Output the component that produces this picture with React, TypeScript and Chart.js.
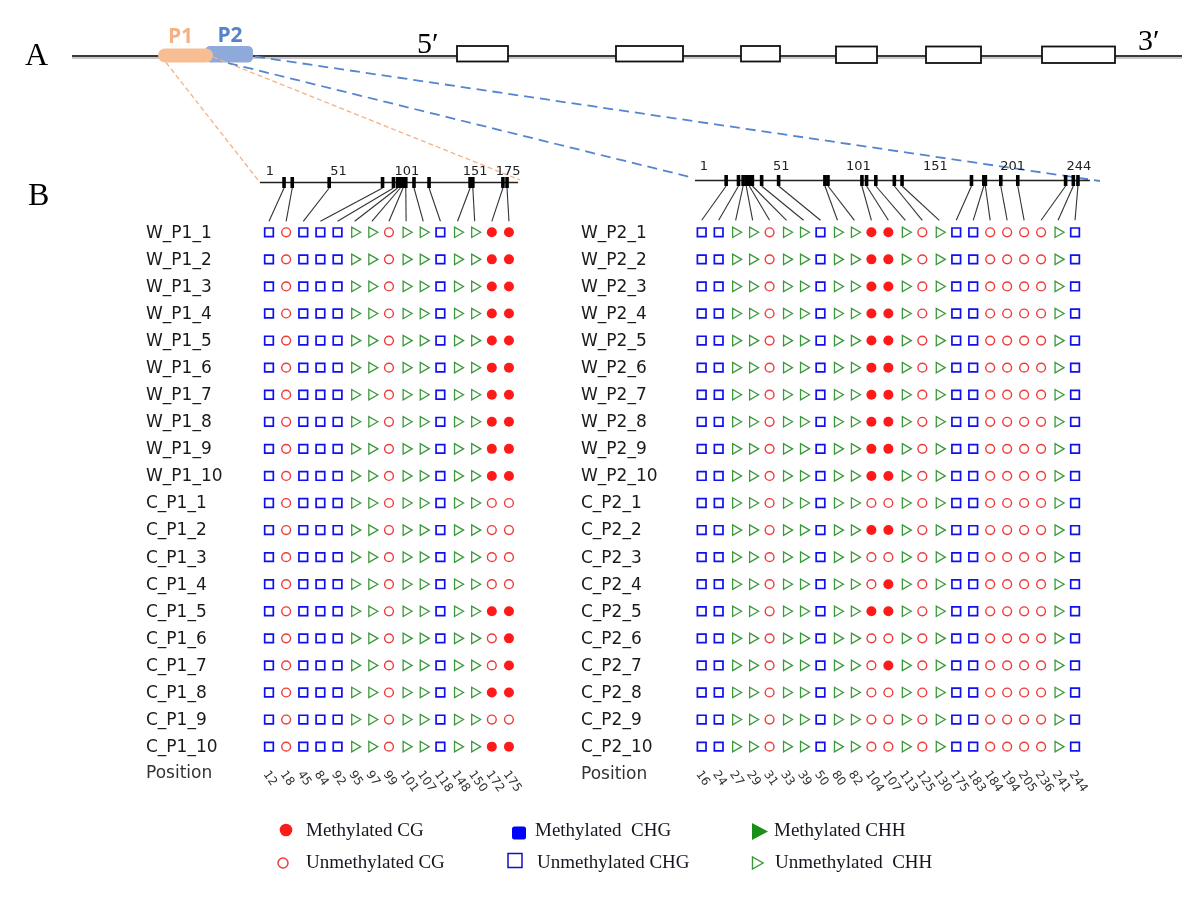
import React, { useEffect, useRef } from "react";
import { Chart, registerables } from "chart.js";

Chart.register(...registerables);

// ---------------- data ----------------
const p1Samples = [
  "W_P1_1", "W_P1_2", "W_P1_3", "W_P1_4", "W_P1_5", "W_P1_6", "W_P1_7", "W_P1_8", "W_P1_9", "W_P1_10",
  "C_P1_1", "C_P1_2", "C_P1_3", "C_P1_4", "C_P1_5", "C_P1_6", "C_P1_7", "C_P1_8", "C_P1_9", "C_P1_10",
];
const p1Positions = [12, 18, 45, 84, 92, 95, 97, 99, 101, 107, 118, 148, 150, 172, 175];
const p1Types = ["CHG", "CG", "CHG", "CHG", "CHG", "CHH", "CHH", "CG", "CHH", "CHH", "CHG", "CHH", "CHH", "CG", "CG"];
// 1 = methylated, 0 = unmethylated (one string per sample, one char per site)
const p1Methylation = [
  "000000000000011", "000000000000011", "000000000000011", "000000000000011", "000000000000011",
  "000000000000011", "000000000000011", "000000000000011", "000000000000011", "000000000000011",
  "000000000000000", "000000000000000", "000000000000000", "000000000000000", "000000000000011",
  "000000000000001", "000000000000001", "000000000000011", "000000000000000", "000000000000011",
];
const p1RulerLabels = [1, 51, 101, 151, 175];

const p2Samples = [
  "W_P2_1", "W_P2_2", "W_P2_3", "W_P2_4", "W_P2_5", "W_P2_6", "W_P2_7", "W_P2_8", "W_P2_9", "W_P2_10",
  "C_P2_1", "C_P2_2", "C_P2_3", "C_P2_4", "C_P2_5", "C_P2_6", "C_P2_7", "C_P2_8", "C_P2_9", "C_P2_10",
];
const p2Positions = [16, 24, 27, 29, 31, 33, 39, 50, 80, 82, 104, 107, 113, 125, 130, 175, 183, 184, 194, 205, 236, 241, 244];
const p2Types = [
  "CHG", "CHG", "CHH", "CHH", "CG", "CHH", "CHH", "CHG", "CHH", "CHH", "CG", "CG",
  "CHH", "CG", "CHH", "CHG", "CHG", "CG", "CG", "CG", "CG", "CHH", "CHG",
];
const p2Methylation = [
  "00000000001100000000000", "00000000001100000000000", "00000000001100000000000", "00000000001100000000000",
  "00000000001100000000000", "00000000001100000000000", "00000000001100000000000", "00000000001100000000000",
  "00000000001100000000000", "00000000001100000000000",
  "00000000000000000000000", "00000000001100000000000", "00000000000000000000000", "00000000000100000000000",
  "00000000001100000000000", "00000000000000000000000", "00000000000100000000000", "00000000000000000000000",
  "00000000000000000000000", "00000000000000000000000",
];
const p2RulerLabels = [1, 51, 101, 151, 201, 244];

// gene model (panel A), in gene-diagram units
const geneSpan = [72, 1182];
const exons = [
  [457, 508], [616, 683], [741, 780], [836, 877], [926, 981], [1042, 1115],
];
const promoterP1 = [158, 213];
const promoterP2 = [205, 253];

const legendItems = [
  { label: "Methylated CG", type: "CG", meth: true },
  { label: "Unmethylated CG", type: "CG", meth: false },
  { label: "Methylated  CHG", type: "CHG", meth: true },
  { label: "Unmethylated CHG", type: "CHG", meth: false },
  { label: "Methylated CHH", type: "CHH", meth: true },
  { label: "Unmethylated  CHH", type: "CHH", meth: false },
];

// ---------------- layout ----------------
const W = 1200;
const H = 901;
const LAYOUT = {
  rowTop: 232.3,
  rowStep: 27.07,
  p1ColLeft: 269,
  p1ColStep: 17.14,
  p2ColLeft: 701.7,
  p2ColStep: 16.97,
  p1PosLeft: 269,
  p1PosStep: 1.368,
  p2PosLeft: 703,
  p2PosStep: 1.543,
  p1LabelX: 146,
  p2LabelX: 581,
  p1RulerY: 182.5,
  p2RulerY: 180.5,
  geneY: 56,
};

const COLORS = {
  CG: "#FF1A1A",
  CGu: "#EE3B3B",
  CHG: "#1010EE",
  CHH: "#1E8C1E",
  CHHu: "#3A9A3A",
  p1: "#F6BE92",
  p1Text: "#F4B183",
  p2: "#8EAADB",
  p2Text: "#5584CA",
  p2Dash: "#5585CC",
};

const SERIF = '"Liberation Serif", "DejaVu Serif", serif';
const SANS = '"DejaVu Sans", sans-serif';

function indexRange(x0: number, step: number, extent: number) {
  const min = -x0 / step;
  return { min, max: min + extent / step };
}
function posRange(x1: number, step: number, extent: number) {
  const min = 1 - x1 / step;
  return { min, max: min + extent / step };
}

function styleFor(type: string, meth: boolean) {
  if (type === "CG") {
    return meth
      ? { pointStyle: "circle", pointRadius: 5, backgroundColor: COLORS.CG, borderColor: COLORS.CG, borderWidth: 0, rotation: 0 }
      : { pointStyle: "circle", pointRadius: 4.4, backgroundColor: "rgba(255,255,255,0)", borderColor: COLORS.CGu, borderWidth: 1.4, rotation: 0 };
  }
  if (type === "CHG") {
    return meth
      ? { pointStyle: "rect", pointRadius: 6.4, backgroundColor: COLORS.CHG, borderColor: COLORS.CHG, borderWidth: 0, rotation: 0 }
      : { pointStyle: "rect", pointRadius: 6.1, backgroundColor: "rgba(255,255,255,0)", borderColor: COLORS.CHG, borderWidth: 1.7, rotation: 0 };
  }
  return meth
    ? { pointStyle: "triangle", pointRadius: 6.2, backgroundColor: COLORS.CHH, borderColor: COLORS.CHH, borderWidth: 0, rotation: 90 }
    : { pointStyle: "triangle", pointRadius: 6, backgroundColor: "rgba(255,255,255,0)", borderColor: COLORS.CHHu, borderWidth: 1.3, rotation: 90 };
}

function buildDatasets(types: string[], meth: string[], xAxisID: string) {
  const out: any[] = [];
  ["CG", "CHG", "CHH"].forEach((t) => {
    [true, false].forEach((m) => {
      const data: { x: number; y: number }[] = [];
      meth.forEach((row, r) => {
        types.forEach((ty, c) => {
          if (ty === t && (row[c] === "1") === m) data.push({ x: c, y: r });
        });
      });
      out.push({ label: `${xAxisID}-${t}-${m ? "m" : "u"}`, data, xAxisID, yAxisID: "y", ...styleFor(t, m) });
    });
  });
  return out;
}

function roundRect(ctx: CanvasRenderingContext2D, x: number, y: number, w: number, h: number, r: number) {
  ctx.beginPath();
  ctx.moveTo(x + r, y);
  ctx.lineTo(x + w - r, y);
  ctx.arcTo(x + w, y, x + w, y + r, r);
  ctx.lineTo(x + w, y + h - r);
  ctx.arcTo(x + w, y + h, x + w - r, y + h, r);
  ctx.lineTo(x + r, y + h);
  ctx.arcTo(x, y + h, x, y + h - r, r);
  ctx.lineTo(x, y + r);
  ctx.arcTo(x, y, x + r, y, r);
  ctx.closePath();
}

function line(ctx: CanvasRenderingContext2D, x1: number, y1: number, x2: number, y2: number) {
  ctx.beginPath();
  ctx.moveTo(x1, y1);
  ctx.lineTo(x2, y2);
  ctx.stroke();
}

const diagramPlugin = {
  id: "diagram",
  beforeDraw(chart: any) {
    const ctx = chart.ctx as CanvasRenderingContext2D;
    ctx.save();
    ctx.fillStyle = "#ffffff";
    ctx.fillRect(0, 0, chart.width, chart.height);
    ctx.restore();
  },
  beforeDatasetsDraw(chart: any) {
    const ctx = chart.ctx as CanvasRenderingContext2D;
    const s = chart.scales;
    const gx = (v: number) => s.gx.getPixelForValue(v);
    const gy = LAYOUT.geneY;
    ctx.save();

    // ---- panel A: gene model ----
    ctx.strokeStyle = "#c8c8c8";
    ctx.lineWidth = 2;
    line(ctx, gx(geneSpan[0]), gy + 2, gx(geneSpan[1]), gy + 2);
    ctx.strokeStyle = "#3a3a3a";
    ctx.lineWidth = 2;
    line(ctx, gx(geneSpan[0]), gy, gx(geneSpan[1]), gy);
    exons.forEach(([a, b], i) => {
      const top = i >= 3 ? 46.5 : 46;
      const h = i >= 3 ? 16.5 : 15.5;
      ctx.fillStyle = "#ffffff";
      ctx.fillRect(gx(a), top, gx(b) - gx(a), h);
      ctx.strokeStyle = "#111";
      ctx.lineWidth = 1.8;
      ctx.strokeRect(gx(a), top, gx(b) - gx(a), h);
    });
    ctx.fillStyle = COLORS.p2;
    roundRect(ctx, gx(promoterP2[0]), 46, gx(promoterP2[1]) - gx(promoterP2[0]), 16.5, 5);
    ctx.fill();
    ctx.fillStyle = COLORS.p1;
    roundRect(ctx, gx(promoterP1[0]), 48.5, gx(promoterP1[1]) - gx(promoterP1[0]), 14, 7);
    ctx.fill();

    // rulers (panel B)
    const p1 = (p: number) => s.pos1.getPixelForValue(p);
    const p2 = (p: number) => s.pos2.getPixelForValue(p);
    const r1Left = p1(1) - 9;
    const r1Right = p1(175) + 11;
    const r2Left = p2(1) - 8;
    const r2Right = p2(244) + 12;

    // dashed connectors from promoters
    ctx.setLineDash([5, 3]);
    ctx.strokeStyle = COLORS.p1Text;
    ctx.lineWidth = 1.3;
    line(ctx, gx(promoterP1[0] + 8), 62.5, r1Left, LAYOUT.p1RulerY);
    line(ctx, gx(promoterP1[1]), 57, r1Right + 2, LAYOUT.p1RulerY - 2.5);
    ctx.setLineDash([10, 6]);
    ctx.strokeStyle = COLORS.p2Dash;
    ctx.lineWidth = 1.8;
    line(ctx, gx(promoterP2[1] + 2), 56.5, r2Right + 10, LAYOUT.p2RulerY + 0.5);
    line(ctx, gx(promoterP2[0] + 23), 63, r2Left - 3, LAYOUT.p2RulerY - 3);
    ctx.setLineDash([]);

    // ruler lines
    ctx.strokeStyle = "#222";
    ctx.lineWidth = 1.5;
    line(ctx, r1Left, LAYOUT.p1RulerY, r1Right, LAYOUT.p1RulerY);
    line(ctx, r2Left, LAYOUT.p2RulerY, r2Right, LAYOUT.p2RulerY);

    // ticks + connector lines
    ctx.fillStyle = "#000";
    const y0 = s.y.getPixelForValue(0);
    p1Positions.forEach((p, i) => {
      const tx = p1(p);
      ctx.fillRect(tx - 1.8, LAYOUT.p1RulerY - 5.5, 3.6, 11);
      ctx.strokeStyle = "#333";
      ctx.lineWidth = 1.1;
      line(ctx, tx, LAYOUT.p1RulerY + 5.5, s.x1.getPixelForValue(i), y0 - 11);
    });
    p2Positions.forEach((p, i) => {
      const tx = p2(p);
      ctx.fillRect(tx - 1.8, LAYOUT.p2RulerY - 5.5, 3.6, 11);
      ctx.strokeStyle = "#333";
      ctx.lineWidth = 1.1;
      line(ctx, tx, LAYOUT.p2RulerY + 5.5, s.x2.getPixelForValue(i), y0 - 12);
    });

    // ruler labels
    ctx.fillStyle = "#222";
    ctx.font = `13px ${SANS}`;
    ctx.textAlign = "center";
    ctx.textBaseline = "middle";
    p1RulerLabels.forEach((p) => ctx.fillText(String(p), p1(p) + 1, LAYOUT.p1RulerY - 11));
    p2RulerLabels.forEach((p) => ctx.fillText(String(p), p2(p) + 1, LAYOUT.p2RulerY - 13.5));

    ctx.restore();
  },
  afterDatasetsDraw(chart: any) {
    const ctx = chart.ctx as CanvasRenderingContext2D;
    const s = chart.scales;
    ctx.save();

    // big panel letters and 5'/3'
    ctx.fillStyle = "#000";
    ctx.textAlign = "left";
    ctx.textBaseline = "alphabetic";
    ctx.font = `32px ${SERIF}`;
    ctx.fillText("A", 25, 64.5);
    ctx.fillText("B", 28, 204.5);
    ctx.font = `30px ${SERIF}`;
    ctx.fillText("5\u2032", 417, 53);
    ctx.fillText("3\u2032", 1138, 50);

    // promoter labels
    ctx.font = `bold 21px "Open Sans", ${SANS}`;
    ctx.textAlign = "center";
    ctx.fillStyle = COLORS.p1Text;
    ctx.fillText("P1", s.gx.getPixelForValue(180.5), 43);
    ctx.fillStyle = COLORS.p2Text;
    ctx.fillText("P2", s.gx.getPixelForValue(230), 42);

    // sample labels
    ctx.textAlign = "left";
    ctx.textBaseline = "middle";
    ctx.fillStyle = "#1a1a1a";
    ctx.font = `17px ${SANS}`;
    p1Samples.forEach((n, r) => ctx.fillText(n, LAYOUT.p1LabelX, s.y.getPixelForValue(r) + 1));
    p2Samples.forEach((n, r) => ctx.fillText(n, LAYOUT.p2LabelX, s.y.getPixelForValue(r) + 1));
    const posRow = p1Samples.length;
    ctx.fillStyle = "#333";
    ctx.fillText("Position", LAYOUT.p1LabelX, s.y.getPixelForValue(posRow) - 0.5);
    ctx.fillText("Position", LAYOUT.p2LabelX, s.y.getPixelForValue(posRow) + 0.5);

    // rotated position labels
    ctx.font = `12px ${SANS}`;
    ctx.fillStyle = "#333";
    const ang = (55 * Math.PI) / 180;
    const yLab = s.y.getPixelForValue(posRow) - 1.5;
    const drawRot = (txt: string, x: number) => {
      ctx.save();
      ctx.translate(x - 3.5, yLab);
      ctx.rotate(ang);
      ctx.textAlign = "left";
      ctx.textBaseline = "middle";
      ctx.fillText(txt, 0, 0);
      ctx.restore();
    };
    p1Positions.forEach((p, i) => drawRot(String(p), s.x1.getPixelForValue(i)));
    p2Positions.forEach((p, i) => drawRot(String(p), s.x2.getPixelForValue(i)));

    // legend
    const cols = [
      { shapeX: 286, textX: 306 },
      { shapeX: 519, textX: 535 },
      { shapeX: 759, textX: 774 },
    ];
    const rowsY = [831, 863];
    ctx.font = `19px ${SERIF}`;
    legendItems.forEach((it, k) => {
      const c = cols[Math.floor(k / 2)];
      const y = rowsY[k % 2];
      ctx.save();
      if (it.type === "CG") {
        ctx.beginPath();
        if (it.meth) {
          ctx.arc(c.shapeX, y - 1, 6.3, 0, Math.PI * 2);
          ctx.fillStyle = COLORS.CG;
          ctx.fill();
        } else {
          ctx.arc(c.shapeX - 3, y, 5, 0, Math.PI * 2);
          ctx.strokeStyle = COLORS.CGu;
          ctx.lineWidth = 1.5;
          ctx.stroke();
        }
      } else if (it.type === "CHG") {
        if (it.meth) {
          ctx.fillStyle = "#0000FF";
          roundRect(ctx, c.shapeX - 7, y - 4.5, 14, 13, 2.5);
          ctx.fill();
        } else {
          ctx.strokeStyle = "#1010CC";
          ctx.lineWidth = 1.5;
          ctx.strokeRect(c.shapeX - 11, y - 9.5, 14, 14);
        }
      } else {
        ctx.beginPath();
        if (it.meth) {
          ctx.moveTo(c.shapeX - 7, y - 8);
          ctx.lineTo(c.shapeX - 7, y + 9);
          ctx.lineTo(c.shapeX + 9, y + 0.5);
          ctx.closePath();
          ctx.fillStyle = "#189018";
          ctx.fill();
        } else {
          ctx.moveTo(c.shapeX - 6.5, y - 6);
          ctx.lineTo(c.shapeX - 6.5, y + 6);
          ctx.lineTo(c.shapeX + 4, y);
          ctx.closePath();
          ctx.strokeStyle = "#3A9A3A";
          ctx.lineWidth = 1.4;
          ctx.stroke();
        }
      }
      ctx.restore();
      ctx.fillStyle = "#161620";
      ctx.textAlign = "left";
      ctx.textBaseline = "middle";
      const tx = it.type === "CHG" && !it.meth ? c.textX + 2 : c.textX + (it.type === "CHH" && !it.meth ? 1 : 0);
      ctx.fillText(it.label, tx, y);
    });

    ctx.restore();
  },
};

export default function App() {
  const ref = useRef<HTMLCanvasElement | null>(null);

  useEffect(() => {
    if (!ref.current) return;
    const datasets = [
      ...buildDatasets(p1Types, p1Methylation, "x1"),
      ...buildDatasets(p2Types, p2Methylation, "x2"),
    ];
    const chart = new Chart(ref.current, {
      type: "scatter",
      data: { datasets },
      options: {
        responsive: false,
        animation: false,
        devicePixelRatio: 1,
        events: [],
        layout: { padding: 0, autoPadding: false },
        plugins: { legend: { display: false }, tooltip: { enabled: false }, title: { display: false } },
        scales: {
          x1: { type: "linear", axis: "x", position: "bottom", display: false, ...indexRange(LAYOUT.p1ColLeft, LAYOUT.p1ColStep, W) },
          x2: { type: "linear", axis: "x", position: "bottom", display: false, ...indexRange(LAYOUT.p2ColLeft, LAYOUT.p2ColStep, W) },
          pos1: { type: "linear", axis: "x", position: "bottom", display: false, ...posRange(LAYOUT.p1PosLeft, LAYOUT.p1PosStep, W) },
          pos2: { type: "linear", axis: "x", position: "bottom", display: false, ...posRange(LAYOUT.p2PosLeft, LAYOUT.p2PosStep, W) },
          gx: { type: "linear", axis: "x", position: "bottom", display: false, min: 0, max: W },
          y: { type: "linear", axis: "y", position: "left", reverse: true, display: false, ...indexRange(LAYOUT.rowTop, LAYOUT.rowStep, H) },
        },
      } as any,
      plugins: [diagramPlugin as any],
    });
    return () => chart.destroy();
  }, []);

  return (
    <div style={{ position: "absolute", left: 0, top: 0, width: W, height: H, background: "#fff" }}>
      <canvas ref={ref} width={W} height={H} style={{ display: "block", width: W, height: H }} />
    </div>
  );
}
